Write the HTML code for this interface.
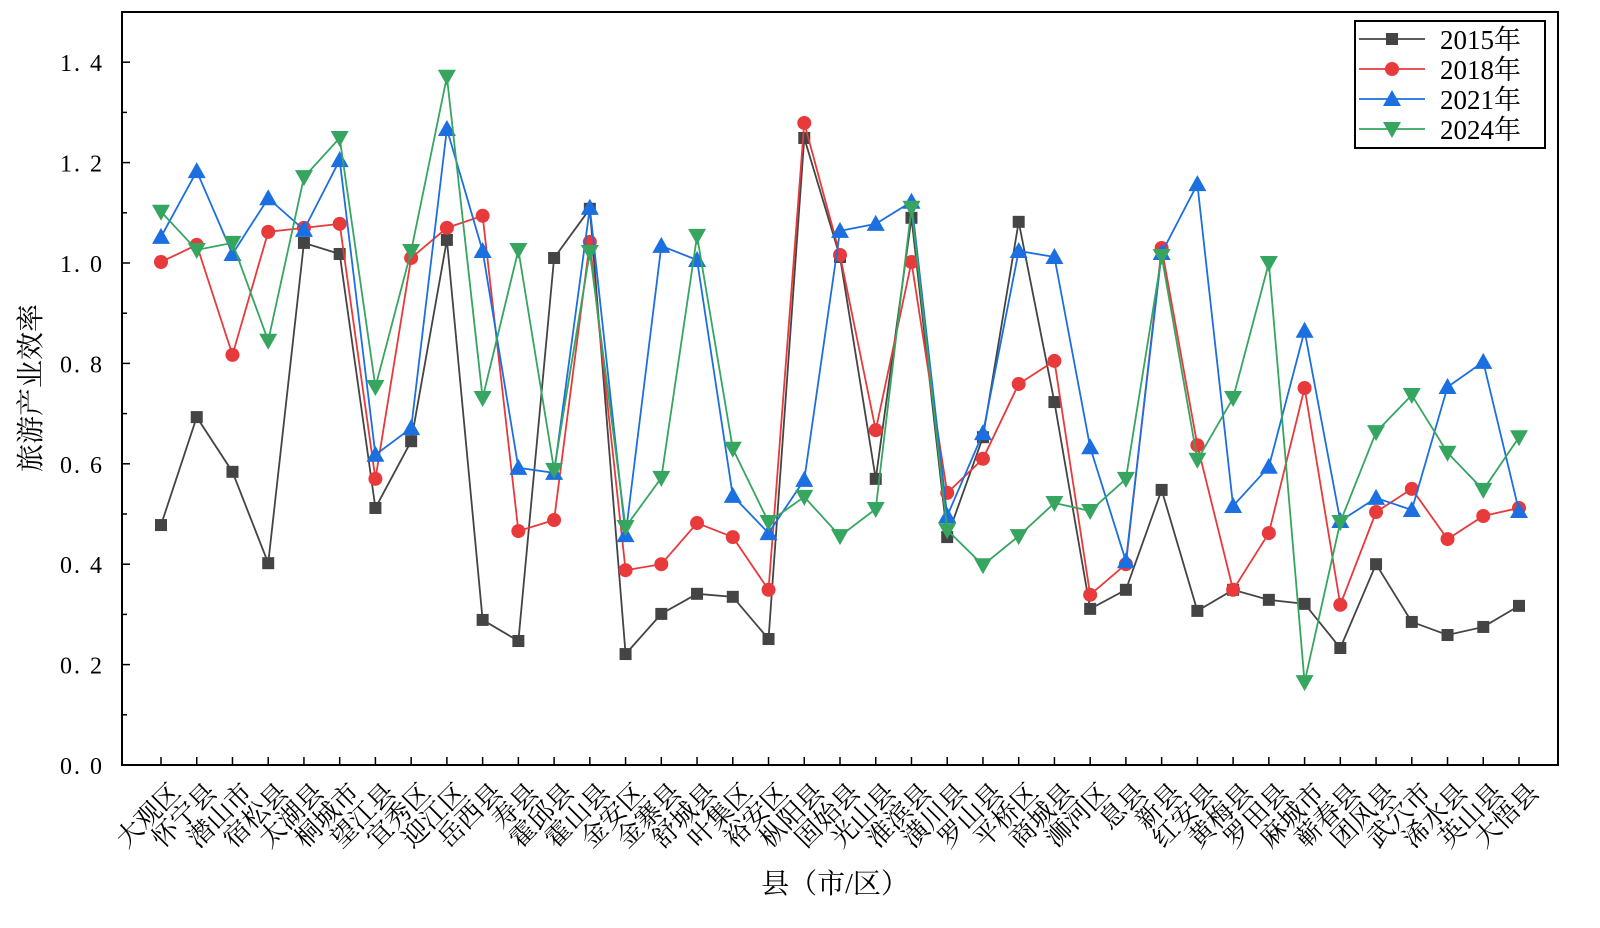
<!DOCTYPE html>
<html><head><meta charset="utf-8"><style>
body{margin:0;background:#fff}
svg{display:block;font-family:"Liberation Serif","Noto Serif CJK SC",serif}
</style></head><body>
<svg id="chart" width="1600" height="928" viewBox="0 0 1600 928" xmlns="http://www.w3.org/2000/svg">
<g id="axes"></g><g id="series"></g><g id="legend"></g>
</svg>
<script>
const categories=["大观区","怀宁县","潜山市","宿松县","太湖县","桐城市","望江县","宜秀区","迎江区","岳西县","寿县","霍邱县","霍山县","金安区","金寨县","舒城县","叶集区","裕安区","枞阳县","固始县","光山县","淮滨县","潢川县","罗山县","平桥区","商城县","浉河区","息县","新县","红安县","黄梅县","罗田县","麻城市","蕲春县","团风县","武穴市","浠水县","英山县","大悟县"];
const s2015=[0.478,0.693,0.584,0.402,1.04,1.018,0.512,0.645,1.046,0.289,0.247,1.01,1.108,0.221,0.301,0.341,0.335,0.251,1.249,1.012,0.57,1.09,0.454,0.653,1.082,0.723,0.311,0.349,0.548,0.307,0.349,0.329,0.321,0.233,0.4,0.285,0.259,0.275,0.317];
const s2018=[1.002,1.036,0.817,1.062,1.07,1.078,0.57,1.01,1.07,1.094,0.466,0.488,1.042,0.388,0.4,0.482,0.454,0.349,1.279,1.016,0.667,1.002,0.542,0.61,0.759,0.805,0.339,0.4,1.03,0.637,0.349,0.462,0.751,0.319,0.504,0.55,0.45,0.496,0.512];
const s2021=[1.052,1.183,1.018,1.129,1.066,1.205,0.618,0.671,1.267,1.024,0.592,0.582,1.11,0.458,1.034,1.006,0.536,0.462,0.568,1.064,1.078,1.122,0.496,0.661,1.024,1.012,0.633,0.406,1.02,1.157,0.516,0.594,0.865,0.486,0.532,0.508,0.753,0.803,0.506];
const s2024=[1.102,1.026,1.04,0.845,1.171,1.249,0.753,1.024,1.371,0.731,1.026,0.588,1.022,0.474,0.572,1.054,0.63,0.484,0.534,0.456,0.51,1.11,0.468,0.398,0.456,0.522,0.506,0.57,1.014,0.608,0.731,1.0,0.165,0.484,0.663,0.737,0.622,0.548,0.653];
const yTicks=[0,0.2,0.4,0.6,0.8,1.0,1.2,1.4];
const seriesNames=["2015年","2018年","2021年","2024年"];

const NS="http://www.w3.org/2000/svg";
const L=122,R=1558,T=12,B=765,Y0=765,YPER=502;
const x0=161,x1=1519;
const xs=i=>x0+(x1-x0)*i/(categories.length-1);
const ys=v=>Y0-v*YPER;
function mk(tag,attrs,parent){const e=document.createElementNS(NS,tag);for(const k in attrs)e.setAttribute(k,attrs[k]);parent.appendChild(e);return e;}
const axes=document.getElementById('axes');
const frame=mk('rect',{x:L,y:T,width:R-L,height:B-T,fill:'none',stroke:'#000','stroke-width':2},axes);


for(let v=0;v<=1.5001;v+=0.1){
  const y=ys(v);const major=Math.round(v*10)%2===0;
  const t=mk('line',{x1:L,x2:L+(major?8:5),y1:y,y2:y,stroke:'#000','stroke-width':1.5},axes);
  
  
}
yTicks.forEach(v=>{
  const t=mk('text',{x:104,y:ys(v)+9,'text-anchor':'end','font-size':24,'letter-spacing':'2'},axes);
  t.textContent=v.toFixed(1).replace('.', '. ');
  
  
});
categories.forEach((c,i)=>{
  const x=xs(i);
  const t=mk('line',{x1:x,x2:x,y1:B,y2:B-8,stroke:'#000','stroke-width':1.5},axes);
  
  
  const lb=mk('text',{x:x+8,y:B+16,'text-anchor':'end','font-size':26,transform:`rotate(-45 ${x+8} ${B+16})`,'dominant-baseline':'hanging'},axes);
  lb.textContent=c;
  
  
});
const yt=mk('text',{x:40,y:388,'text-anchor':'middle','font-size':28,transform:'rotate(-90 40 388)'},axes);
yt.textContent='旅游产业效率';


const xt=mk('text',{x:835,y:893,'text-anchor':'middle','font-size':28},axes);
xt.textContent='县（市/区）';



const colors=['#444444','#e8393b','#1c6fe0','#36a560'];
const data=[s2015,s2018,s2021,s2024];
function marker(k,x,y,g){
  let e;
  if(k===0)e=mk('rect',{x:x-6,y:y-6,width:12,height:12,fill:colors[0]},g);
  else if(k===1)e=mk('circle',{cx:x,cy:y,r:7,fill:colors[1]},g);
  else if(k===2)e=mk('polygon',{points:`${x},${y-9} ${x-9},${y+7} ${x+9},${y+7}`,fill:colors[2]},g);
  else e=mk('polygon',{points:`${x},${y+9} ${x-9},${y-7} ${x+9},${y-7}`,fill:colors[3]},g);
  return e;
}
const sg=document.getElementById('series');
data.forEach((arr,k)=>{
  const g=mk('g',{},sg);
  
  
  const pl=mk('polyline',{points:arr.map((v,i)=>xs(i)+','+ys(v)).join(' '),fill:'none',stroke:colors[k],'stroke-width':1.8},g);
  
  
  arr.forEach((v,i)=>{
    const m=marker(k,xs(i),ys(v),g);
    
    
  });
});
const lg=document.getElementById('legend');
const box=mk('rect',{x:1355,y:21,width:190,height:127,fill:'#fff',stroke:'#000','stroke-width':2},lg);


seriesNames.forEach((n,k)=>{
  const y=39+k*30;
  const g=mk('g',{},lg);
  
  
  mk('line',{x1:1387-28,x2:1425,y1:y,y2:y,stroke:colors[k],'stroke-width':1.8},g);
  marker(k,1392,y,g);
  const t=mk('text',{x:1440,y:y+10,'font-size':27},g);
  t.textContent=n;
});
</script>
</body></html>
